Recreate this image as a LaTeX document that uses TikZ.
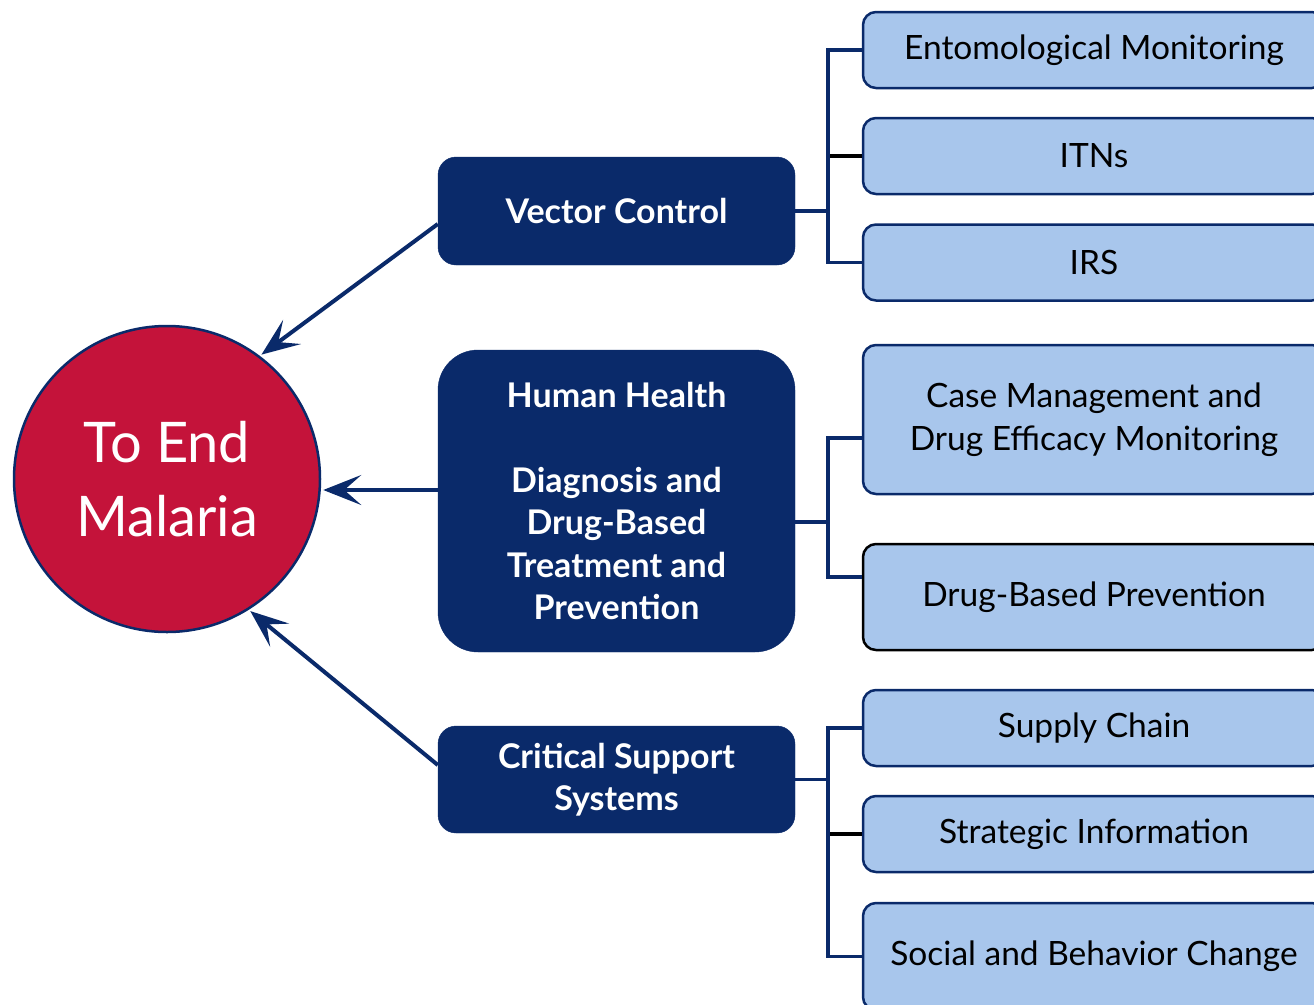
\documentclass[tikz,border=0pt]{standalone}
\usepackage{fontspec}
\setmainfont{Lato}
\usetikzlibrary{arrows.meta}
\definecolor{navy}{HTML}{0A2A6A}
\definecolor{lightblue}{HTML}{A8C6EC}
\definecolor{crimson}{HTML}{C4133A}
\tikzset{
  x=1pt,y=-1pt,
  darkbox/.style={fill=navy,draw=navy,rounded corners=18pt,minimum width=357pt,text=white,font=\fontsize{34}{42.5}\selectfont\bfseries,align=center,inner sep=0pt},
  subbox/.style={fill=lightblue,draw=navy,line width=2.5pt,rounded corners=13pt,minimum width=462pt,text=black,font=\fontsize{33.5}{42.5}\selectfont,align=center,inner sep=0pt},
  conn/.style={draw=navy,line width=3.5pt},
  bconn/.style={draw=black,line width=3.5pt},
  goal/.style={-{Stealth[length=38pt,width=30pt,inset=17pt]},draw=navy,line width=4pt,shorten >=2pt},
}
\begin{document}
\begin{tikzpicture}
\useasboundingbox (0,0) rectangle (1314,1004);
\node[circle,fill=crimson,draw=navy,line width=2.5pt,minimum size=306pt,inner sep=0pt,text=white,font=\fontsize{56}{74}\selectfont,align=center] (goalc) at (167,479) {To End\\Malaria};
\node[darkbox,minimum height=108pt] (vc) at (616.5,211) {Vector Control};
\node[darkbox,minimum height=302pt,rounded corners=40pt] (hh) at (616.5,501) {Human Health\\[42.5pt]Diagnosis and\\Drug-Based\\Treatment and\\Prevention};
\node[darkbox,minimum height=107pt] (cs) at (616.5,779.5) {Critical Support\\Systems};
\node[subbox,minimum height=76pt] (ent) at (1094,50) {Entomological Monitoring};
\node[subbox,minimum height=76pt] (itn) at (1094,156) {ITNs};
\node[subbox,minimum height=76pt] (irs) at (1094,262.5) {IRS};
\node[subbox,minimum height=149pt] (case) at (1094,419.5) {Case Management and\\Drug Efficacy Monitoring};
\node[subbox,minimum height=106pt,draw=black] (drug) at (1094,597) {Drug-Based Prevention};
\node[subbox,minimum height=76pt] (sup) at (1094,728) {Supply Chain};
\node[subbox,minimum height=76pt] (strat) at (1094,834) {Strategic Information};
\node[subbox,minimum height=107pt] (soc) at (1094,956.5) {Social and Behavior Change};
% group 1
\draw[conn] (vc.east) -- ++(34,0);
\draw[conn] (ent.west) -- ++(-34,0) |- (irs.west);
\draw[bconn] (itn.west) -- ++(-32,0);
% group 2
\draw[conn] ([yshift=-21pt]hh.east) -- ++(34,0);
\draw[conn] ([yshift=-18.5pt]case.west) -- ++(-34,0) |- ([yshift=20pt]drug.west);
% group 3
\draw[conn] (cs.east) -- ++(34,0);
\draw[conn] (sup.west) -- ++(-34,0) |- (soc.west);
\draw[bconn] (strat.west) -- ++(-32,0);
% arrows
\draw[goal] ([yshift=-13pt]vc.west) -- (goalc.53);
\draw[goal] ([yshift=11pt]hh.west) -- (goalc.east |- 0,490);
\draw[goal] ([yshift=14.5pt]cs.west) -- (goalc.-58);
\end{tikzpicture}
\end{document}
